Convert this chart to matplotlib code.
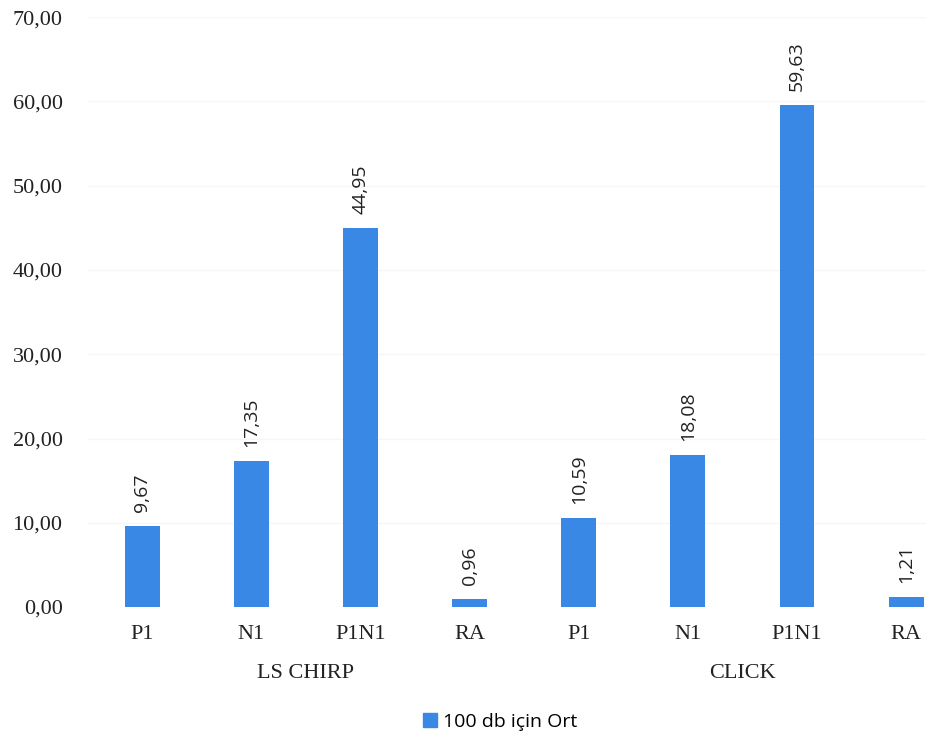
import matplotlib.pyplot as plt
from matplotlib.patches import Patch
import matplotlib.transforms as mtransforms

# average values at 100 dB
groups = ["LS CHIRP", "CLICK"]
waves = ["P1", "N1", "P1N1", "RA"]
values = [9.67, 17.35, 44.95, 0.96, 10.59, 18.08, 59.63, 1.21]
series_name = "100 db için Ort"

bar_color = "#3a88e6"

fig = plt.figure(figsize=(9.26, 7.4), dpi=100)
ax = fig.add_axes([0.0945, 0.1797, 0.943, 0.797])

labels = waves * len(groups)
x = list(range(len(values)))
ax.bar(x, values, width=0.32, color=bar_color, zorder=2)

for xi, v in zip(x, values):
    ax.annotate(f"{v:.2f}".replace(".", ","), (xi, v), xytext=(0, 10),
                textcoords="offset points", rotation=90, ha="center", va="bottom",
                fontsize=14, family="Open Sans", color="#222222")

ax.set_xlim(-0.5, len(values) - 0.5)
ax.set_ylim(0, 70)
ax.set_yticks(range(0, 71, 10))
ax.set_yticklabels([f"{t:.2f}".replace(".", ",") for t in range(0, 71, 10)],
                   family="Liberation Serif", fontsize=16, color="#222222")
ax.set_xticks(x)
ax.set_xticklabels(labels, family="Liberation Serif", fontsize=16, color="#222222")
ax.tick_params(axis="y", length=0, pad=18)
ax.tick_params(axis="x", length=0, pad=13)
ax.grid(axis="y", color="#f6f6f6", linewidth=1, zorder=0)
for s in ax.spines.values():
    s.set_visible(False)

# group labels under the categories
trans = mtransforms.blended_transform_factory(ax.transData, fig.transFigure)
n = len(waves)
for gi, g in enumerate(groups):
    cx = gi * n + (n - 1) / 2
    ax.text(cx, 1 - 673 / 740, g, transform=trans, ha="center", va="center",
            family="Liberation Serif", fontsize=16, color="#222222")

fig.legend(handles=[Patch(color=bar_color, label=series_name)],
           loc="center", bbox_to_anchor=(0.54, 1 - 722 / 740), frameon=False,
           prop={"family": "Open Sans", "size": 14}, handlelength=0.7,
           handleheight=0.7, handletextpad=0.3)

fig.savefig("out.png", dpi=100)
